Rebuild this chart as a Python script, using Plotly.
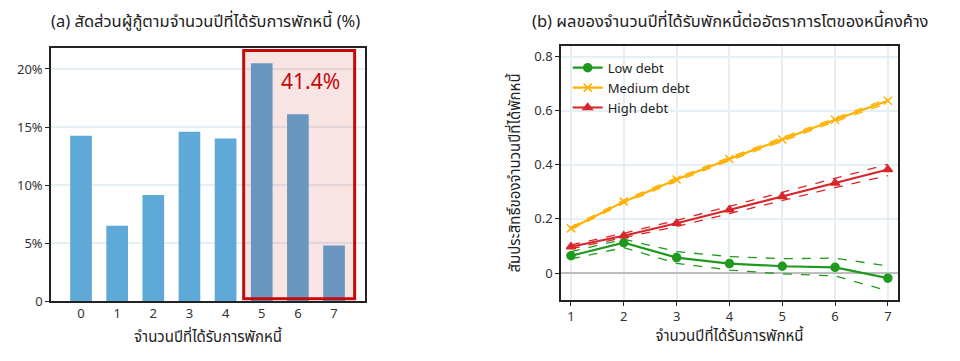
import plotly.graph_objects as go
from plotly.subplots import make_subplots

# ---- data: panel (a)
years_a = [0, 1, 2, 3, 4, 5, 6, 7]
share_pct = [14.25, 6.5, 9.15, 14.6, 14.0, 20.5, 16.1, 4.8]
highlight_from = 5

# ---- data: panel (b)
years_b = [1, 2, 3, 4, 5, 6, 7]
low_coef = [0.064, 0.112, 0.057, 0.035, 0.025, 0.021, -0.019]
low_hi = [0.079, 0.125, 0.079, 0.061, 0.053, 0.055, 0.026]
low_lo = [0.052, 0.094, 0.036, 0.011, -0.003, -0.011, -0.066]
med_coef = [0.165, 0.264, 0.346, 0.422, 0.494, 0.567, 0.637]
med_hi = [0.170, 0.270, 0.352, 0.428, 0.501, 0.574, 0.645]
med_lo = [0.160, 0.258, 0.340, 0.416, 0.487, 0.560, 0.629]
high_coef = [0.097, 0.138, 0.184, 0.234, 0.283, 0.333, 0.383]
high_hi = [0.104, 0.147, 0.195, 0.247, 0.297, 0.350, 0.402]
high_lo = [0.090, 0.130, 0.172, 0.220, 0.267, 0.316, 0.360]

title_a = "(a) สัดส่วนผู้กู้ตามจำนวนปีที่ได้รับการพักหนี้ (%)"
title_b = "(b) ผลของจำนวนปีที่ได้รับพักหนี้ต่ออัตราการโตของหนี้คงค้าง"
xtitle = "จำนวนปีที่ได้รับการพักหนี้"
ytitle_b = "สัมประสิทธิ์ของจำนวนปีที่ได้พักหนี้"

FONT = "Noto Sans, Noto Sans Thai, DejaVu Sans, sans-serif"
GREEN = "#1f9a1f"
ORANGE = "#ffb000"
RED = "#d8262b"
BLUE = "#5ea9d7"
GRID = "#e6eff3"

fig = make_subplots(rows=1, cols=2)

fig.add_trace(go.Bar(x=years_a, y=share_pct, marker=dict(color=BLUE, line=dict(width=0)),
                     width=0.6, showlegend=False), row=1, col=1)

def add_series(name, coef, hi, lo, color, symbol):
    fig.add_trace(go.Scatter(x=years_b, y=hi, mode="lines", line=dict(color=color, width=1.3, dash="dash"),
                             showlegend=False, hoverinfo="skip"), row=1, col=2)
    fig.add_trace(go.Scatter(x=years_b, y=lo, mode="lines", line=dict(color=color, width=1.3, dash="dash"),
                             showlegend=False, hoverinfo="skip"), row=1, col=2)
    fig.add_trace(go.Scatter(x=years_b, y=coef, mode="lines+markers", name=name,
                             line=dict(color=color, width=2.2),
                             marker=dict(symbol=symbol, size=8, color=color,
                                         line=dict(color=color, width=1.5))), row=1, col=2)

add_series("Low debt", low_coef, low_hi, low_lo, GREEN, "circle")
add_series("Medium debt", med_coef, med_hi, med_lo, ORANGE, "x-thin")
add_series("High debt", high_coef, high_hi, high_lo, RED, "triangle-up")

# highlight box over panel (a)
fig.add_shape(type="rect", xref="x", yref="y", x0=highlight_from - 0.5, x1=years_a[-1] + 0.57,
              y0=0.2, y1=21.6, line=dict(color="#c40a0a", width=3),
              fillcolor="rgba(200,10,10,0.11)", layer="above")
total = sum(share_pct[highlight_from:])
fig.add_annotation(xref="x", yref="y", x=6.35, y=19.0, text=f"{total:.1f}%", showarrow=False,
                   font=dict(family=FONT, size=21, color="#c40a0a"))

# titles
fig.add_annotation(xref="paper", yref="paper", x=0.206, xanchor="center", y=0.964, yanchor="middle",
                   text=title_a, showarrow=False, font=dict(family=FONT, size=16.5, color="#222"))
fig.add_annotation(xref="paper", yref="paper", x=0.752, xanchor="center", y=0.964, yanchor="middle",
                   text=title_b, showarrow=False, font=dict(family=FONT, size=16.5, color="#222"))

tickfont = dict(family=FONT, size=13, color="#333")
axis_line = dict(showline=True, linecolor="#222", linewidth=1.5, mirror=True, automargin=False)

fig.update_xaxes(domain=[0.0448, 0.372], range=[-0.83, 7.86], tickvals=years_a, ticks="",
                 showgrid=False, tickfont=tickfont, zeroline=False,
                 title=dict(text=xtitle, font=dict(family=FONT, size=15, color="#222"), standoff=10),
                 **axis_line, row=1, col=1)
fig.update_yaxes(domain=[0.188, 0.889], range=[0, 21.8], tickvals=[0, 5, 10, 15, 20],
                 ticktext=["0", "5%", "10%", "15%", "20%"], ticks="outside", ticklen=4, tickcolor="#222",
                 showgrid=True, gridcolor=GRID, gridwidth=1.5, zeroline=False, tickfont=tickfont,
                 **axis_line, row=1, col=1)

fig.update_xaxes(domain=[0.576, 0.927], range=[0.81, 7.19], tickvals=years_b, ticks="outside",
                 ticklen=4, tickcolor="#222", showgrid=True, gridcolor=GRID, gridwidth=1.5,
                 zeroline=False, tickfont=tickfont,
                 title=dict(text=xtitle, font=dict(family=FONT, size=15, color="#222"), standoff=6),
                 **axis_line, row=1, col=2)
fig.update_yaxes(domain=[0.191, 0.895], range=[-0.1, 0.84], tickvals=[0, 0.2, 0.4, 0.6, 0.8],
                 ticktext=["0", "0.2", "0.4", "0.6", "0.8"], ticks="outside", ticklen=4, tickcolor="#222",
                 showgrid=True, gridcolor=GRID, gridwidth=1.5, zeroline=True, zerolinecolor="#bdbdbd",
                 zerolinewidth=2, tickfont=tickfont,
                 title=dict(text=ytitle_b, font=dict(family=FONT, size=15, color="#222"), standoff=10),
                 **axis_line, row=1, col=2)

fig.update_layout(
    width=960, height=361, margin=dict(l=0, r=0, t=0, b=0),
    paper_bgcolor="white", plot_bgcolor="white", bargap=0.4,
    font=dict(family=FONT, color="#222"),
    legend=dict(x=0.583, y=0.876, xanchor="left", yanchor="top", bgcolor="rgba(255,255,255,0)",
                font=dict(family=FONT, size=13, color="#222"), tracegroupgap=0, itemwidth=30),
)

fig.write_html("out.html")
